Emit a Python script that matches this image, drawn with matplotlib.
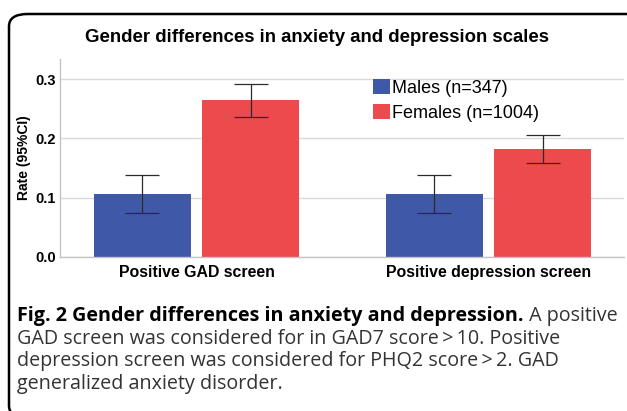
import matplotlib
matplotlib.use("Agg")
import matplotlib.pyplot as plt
import numpy as np
from matplotlib.patches import FancyBboxPatch

# ── Data ──────────────────────────────────────────────────────────────────────
categories = ["Positive GAD screen", "Positive depression screen"]
groups = ["Males (n=347)", "Females (n=1004)"]
males_rate = [0.106, 0.106]
males_lo = [0.075, 0.075]
males_hi = [0.139, 0.139]
females_rate = [0.265, 0.182]
females_lo = [0.237, 0.158]
females_hi = [0.292, 0.206]

title = "Gender differences in anxiety and depression scales"
ylabel = "Rate (95%CI)"
yticks = [0.0, 0.1, 0.2, 0.3]
caption_bold = "Fig. 2 Gender differences in anxiety and depression."
caption_lines = [
    " A positive",
    "GAD screen was considered for in GAD7 score\u2009>\u200910. Positive",
    "depression screen was considered for PHQ2 score\u2009>\u20092. GAD",
    "generalized anxiety disorder.",
]

blue = "#3F59A8"
red = "#EC4A4C"

W, H = 627, 411
fig = plt.figure(figsize=(W / 100, H / 100), dpi=100)

def px(x0, y0, x1, y1):
    """pixel box (top-left origin) -> figure fraction rect"""
    return [x0 / W, 1 - y1 / H, (x1 - x0) / W, (y1 - y0) / H]

# rounded frame (only top-left part visible, rest runs off the figure)
frame = FancyBboxPatch((9 / W, 1 - 418 / H), 640 / W, (418 - 14) / H,
                       boxstyle="round,pad=0,rounding_size=0.03",
                       transform=fig.transFigure, fill=False,
                       edgecolor="black", linewidth=1.8, clip_on=False)
fig.patches.append(frame)

ax = fig.add_axes(px(60, 59, 624, 257))
x = np.arange(len(categories))
off, bw = 0.185, 0.332

m_err = [np.subtract(males_rate, males_lo), np.subtract(males_hi, males_rate)]
f_err = [np.subtract(females_rate, females_lo), np.subtract(females_hi, females_rate)]
ek = dict(ecolor="#2b2b2b", elinewidth=0.9, capthick=0.9)
ax.bar(x - off, males_rate, bw, color=blue, label=groups[0], zorder=2,
       yerr=m_err, capsize=12, error_kw=ek)
ax.bar(x + off, females_rate, bw, color=red, label=groups[1], zorder=2,
       yerr=f_err, capsize=12, error_kw=ek)

ax.set_xlim(-0.4675, 1.464)
ax.set_ylim(0, 0.334)
ax.set_yticks(yticks)
ax.set_yticklabels([f"{v:.1f}" for v in yticks], fontweight="bold",
                   fontsize=10.5, family="Liberation Sans")
ax.set_xticks(x)
ax.set_xticklabels(categories, fontweight="bold", fontsize=11.4,
                   family="Liberation Sans")
ax.tick_params(axis="both", length=0)
ax.tick_params(axis="x", pad=6)
ax.tick_params(axis="y", pad=3)
ax.grid(axis="y", color="#d9d9d9", linewidth=1, zorder=0)
ax.set_axisbelow(True)
for s in ["top", "right"]:
    ax.spines[s].set_visible(False)
for s in ["left", "bottom"]:
    ax.spines[s].set_color("#c4c4c4")
    ax.spines[s].set_linewidth(1)

ax.set_ylabel(ylabel, fontweight="bold", fontsize=10, family="Liberation Sans",
              labelpad=3)

ax.legend(loc="upper left", bbox_to_anchor=(373 / W, 1 - 79 / H),
          bbox_transform=fig.transFigure, frameon=False,
          prop={"family": "Liberation Sans", "size": 13},
          handlelength=0.95, handleheight=0.9, handletextpad=0.1,
          labelspacing=0.42, borderpad=0, borderaxespad=0)

fig.text(317 / W, 1 - 42 / H, title, ha="center", va="baseline",
         fontweight="bold", fontsize=13.4, family="Liberation Sans")

# caption
cap_font = dict(family="Open Sans", fontsize=14.2)
baselines = [321, 343.5, 366, 388.5]
t = fig.text(17 / W, 1 - baselines[0] / H, caption_bold, ha="left", va="baseline",
             fontweight="bold", **cap_font)
fig.canvas.draw()
bb = t.get_window_extent()
fig.text(bb.x1 / W, 1 - baselines[0] / H, caption_lines[0], ha="left",
         va="baseline", color="#333333", **cap_font)
for yb, line in zip(baselines[1:], caption_lines[1:]):
    fig.text(17 / W, 1 - yb / H, line, ha="left", va="baseline",
             color="#333333", **cap_font)

fig.savefig("out.png", dpi=100)
